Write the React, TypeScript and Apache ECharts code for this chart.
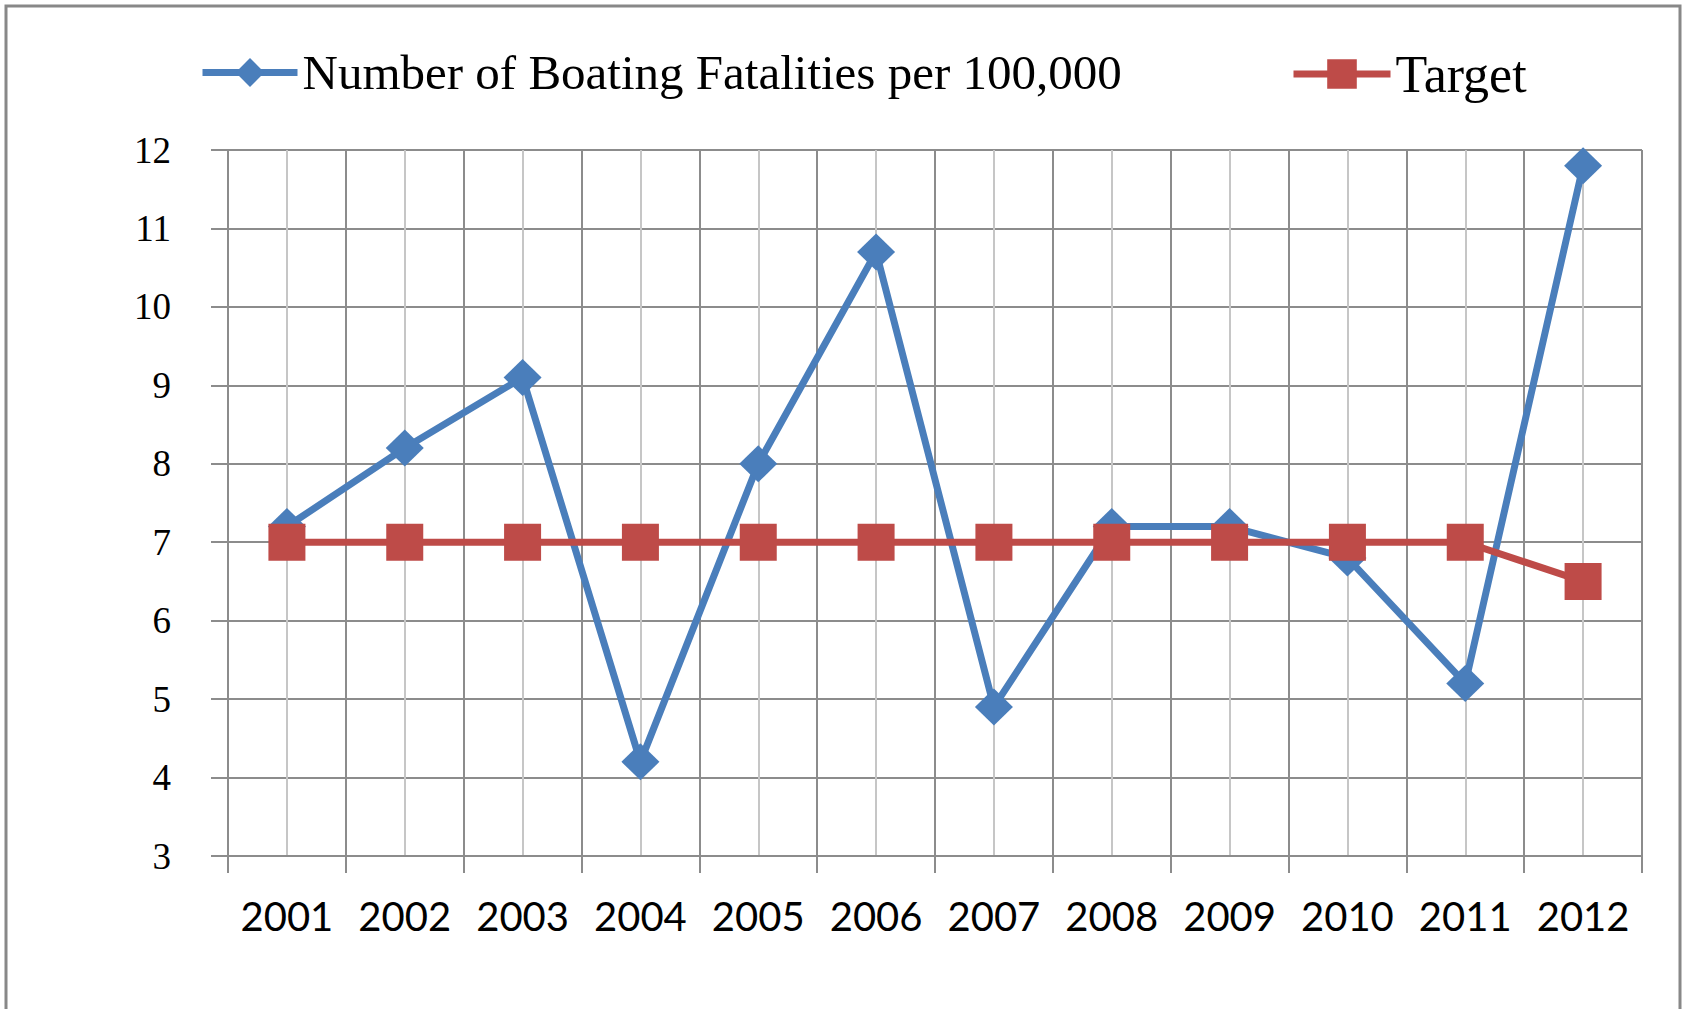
import React, { useEffect, useRef } from "react";
import * as echarts from "echarts";

const years = ["2001", "2002", "2003", "2004", "2005", "2006", "2007", "2008", "2009", "2010", "2011", "2012"];
const fatalities = [7.2, 8.2, 9.1, 4.2, 8.0, 10.7, 4.9, 7.2, 7.2, 6.8, 5.2, 11.8];
const target = [7, 7, 7, 7, 7, 7, 7, 7, 7, 7, 7, 6.5];
const seriesNames = ["Number of Boating Fatalities per 100,000", "Target"];
const yMin = 3;
const yMax = 12;
const yStep = 1;

const GRID_DARK = "#8c8c8c";
const GRID_LIGHT = "#c6c6c6";
const BLUE = "#4A7EBB";
const RED = "#BE4B48";

export default function App() {
  const ref = useRef<HTMLDivElement>(null);
  useEffect(() => {
    if (!ref.current) return;
    const chart = echarts.init(ref.current, null, { renderer: "svg" });
    const legendText = { fontFamily: "Liberation Serif", fontSize: 49, color: "#000" };
    chart.setOption({
      animation: false,
      backgroundColor: "#fff",
      graphic: [
        {
          type: "rect",
          shape: { x: 6, y: 6, width: 1674, height: 1100 },
          style: { fill: "none", stroke: "#888", lineWidth: 3 },
          silent: true,
        },
      ],
      legend: [
        {
          data: [seriesNames[0]],
          left: 199,
          top: 48,
          padding: 0,
          itemWidth: 95,
          itemHeight: 36,
          textStyle: legendText,
          lineStyle: { width: 7 },
          selectedMode: false,
        },
        {
          data: [seriesNames[1]],
          left: 1290,
          top: 48,
          padding: 0,
          itemWidth: 97,
          itemHeight: 37,
          textStyle: { ...legendText, fontSize: 52 },
          lineStyle: { width: 7 },
          selectedMode: false,
        },
      ],
      grid: { left: 228, right: 42, top: 150, bottom: 153 },
      xAxis: [
        {
          type: "category",
          data: years,
          boundaryGap: true,
          axisLine: { show: true, lineStyle: { color: GRID_DARK, width: 2 } },
          axisTick: { show: true, inside: false, length: 17, interval: 0, lineStyle: { color: GRID_DARK, width: 2 } },
          splitLine: { show: false },
          axisLabel: {
            fontFamily: "Lato",
            fontSize: 40,
            color: "#000",
            margin: 60,
            verticalAlign: "middle",
            interval: 0,
          },
        },
        {
          type: "value",
          min: 0,
          max: 24,
          interval: 1,
          position: "top",
          axisLine: { show: false },
          axisTick: { show: false },
          axisLabel: { show: false },
          splitLine: { show: true, lineStyle: { color: [GRID_DARK, GRID_LIGHT], width: 2 } },
        },
      ],
      yAxis: {
        type: "value",
        min: yMin,
        max: yMax,
        interval: yStep,
        axisLine: { show: true, lineStyle: { color: GRID_DARK, width: 2 } },
        axisTick: { show: true, inside: false, length: 17, lineStyle: { color: GRID_DARK, width: 2 } },
        splitLine: { show: true, lineStyle: { color: GRID_DARK, width: 2 } },
        axisLabel: {
          fontFamily: "Liberation Serif",
          fontSize: 37,
          color: "#000",
          margin: 57,
        },
      },
      series: [
        {
          name: seriesNames[0],
          type: "line",
          data: fatalities,
          xAxisIndex: 0,
          symbol: "diamond",
          symbolSize: [38, 37],
          lineStyle: { color: BLUE, width: 7 },
          itemStyle: { color: BLUE },
        },
        {
          name: seriesNames[1],
          type: "line",
          data: target,
          xAxisIndex: 0,
          symbol: "rect",
          symbolSize: 37,
          lineStyle: { color: RED, width: 7 },
          itemStyle: { color: RED },
        },
      ],
    });
    return () => chart.dispose();
  }, []);
  return (
    <div
      ref={ref}
      style={{ position: "absolute", left: 0, top: 0, width: 1684, height: 1009, background: "#fff" }}
    />
  );
}
